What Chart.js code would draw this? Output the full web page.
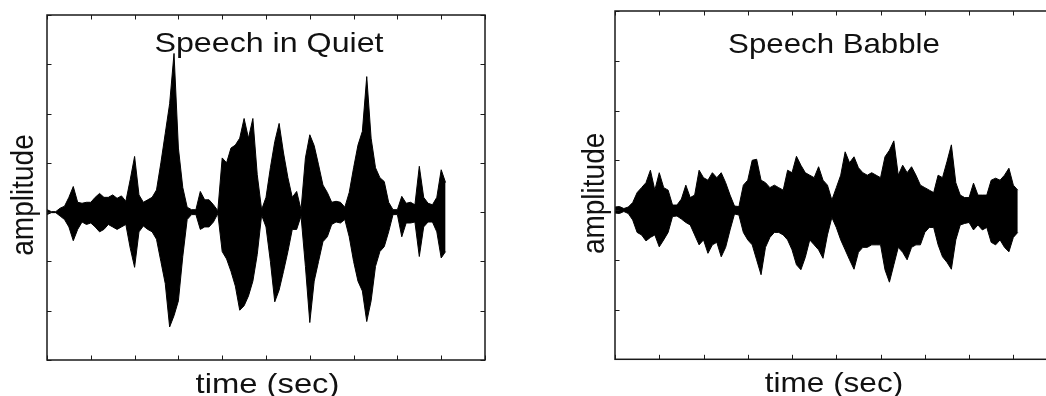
<!DOCTYPE html>
<html>
<head>
<meta charset="utf-8">
<script src="https://cdn.jsdelivr.net/npm/chart.js@4.4.1/dist/chart.umd.min.js"></script>
<style>
  html, body { margin: 0; padding: 0; background: #fff; overflow: hidden; width: 1046px; height: 396px; }
  canvas { position: absolute; top: 0; }
  #quietChart { left: 0; }
  #babbleChart { left: 560px; }
</style>
</head>
<body>
<canvas id="quietChart" width="523" height="396"></canvas>
<canvas id="babbleChart" width="520" height="396"></canvas>
<script>
// envelope of the waveform, read every 0.1 tick interval
const sampleTime = [
  0.0, 0.1, 0.2, 0.3, 0.4, 0.5, 0.6, 0.7, 0.8, 0.9,
  1.0, 1.1, 1.2, 1.3, 1.4, 1.5, 1.6, 1.7, 1.8, 1.9,
  2.0, 2.1, 2.2, 2.3, 2.4, 2.5, 2.6, 2.7, 2.8, 2.9,
  3.0, 3.1, 3.2, 3.3, 3.4, 3.5, 3.6, 3.7, 3.8, 3.9,
  4.0, 4.1, 4.2, 4.3, 4.4, 4.5, 4.6, 4.7, 4.8, 4.9,
  5.0, 5.1, 5.2, 5.3, 5.4, 5.5, 5.6, 5.7, 5.8, 5.9,
  6.0, 6.1, 6.2, 6.3, 6.4, 6.5, 6.6, 6.7, 6.8, 6.9,
  7.0, 7.1, 7.2, 7.3, 7.4, 7.5, 7.6, 7.7, 7.8, 7.9,
  8.0, 8.1, 8.2, 8.3, 8.4, 8.5, 8.6, 8.7, 8.8, 8.9,
  9.0, 9.1
];

const quietUpper = [
  0.05, 0.01, 0.01, 0.08, 0.12, 0.3, 0.52, 0.2, 0.18, 0.2,
  0.2, 0.3, 0.38, 0.3, 0.3, 0.35, 0.28, 0.33, 0.22, 0.66,
  1.13, 0.35, 0.2, 0.25, 0.3, 0.45, 1.0, 1.6, 2.2, 3.22,
  1.3, 0.5, 0.1, 0.05, 0.05, 0.42, 0.25, 0.25, 0.15, 0.03,
  1.1, 1.0, 1.3, 1.36, 1.5, 1.9, 1.5, 1.9, 0.76, 0.05,
  0.3, 0.9, 1.43, 1.8, 1.2, 0.7, 0.3, 0.42, 0.05, 1.1,
  1.57, 1.35, 0.96, 0.55, 0.4, 0.2, 0.22, 0.2, 0.1, 0.4,
  0.9, 1.36, 1.64, 2.75, 1.5, 0.9, 0.7, 0.62, 0.2, 0.05,
  0.05, 0.32, 0.18, 0.2, 0.15, 0.93, 0.3, 0.18, 0.15, 0.3,
  0.86, 0.6
];
const quietLower = [
  -0.05, -0.01, -0.01, -0.08, -0.15, -0.3, -0.58, -0.35, -0.2, -0.25,
  -0.22, -0.3, -0.4, -0.35, -0.25, -0.3, -0.35, -0.3, -0.25, -0.73,
  -1.12, -0.4, -0.28, -0.35, -0.4, -0.55, -1.0, -1.45, -2.33, -2.1,
  -1.8, -0.9, -0.15, -0.05, -0.05, -0.35, -0.3, -0.3, -0.2, -0.03,
  -0.8, -0.95, -1.2, -1.5, -1.99, -1.9, -1.7, -1.4, -0.86, -0.06,
  -0.3, -1.0, -1.82, -1.58, -1.2, -0.8, -0.35, -0.35, -0.08, -1.1,
  -2.24, -1.4, -1.0, -0.6, -0.5, -0.25, -0.2, -0.22, -0.15, -0.5,
  -1.0, -1.4, -1.6, -2.22, -1.8, -1.1, -0.8, -0.7, -0.4, -0.05,
  -0.05, -0.5, -0.22, -0.22, -0.2, -0.9, -0.3, -0.2, -0.2, -0.4,
  -0.93, -0.8
];

const babbleUpper = [
  0.06, 0.07, 0.03, 0.06, 0.15, 0.35, 0.45, 0.55, 0.8, 0.4,
  0.75, 0.45, 0.4, 0.1, 0.1, 0.22, 0.5, 0.25, 0.3, 0.8,
  0.65, 0.6, 0.75, 0.65, 0.75, 0.55, 0.3, 0.08, 0.07, 0.5,
  0.6, 1.0, 1.02, 0.6, 0.55, 0.45, 0.5, 0.45, 0.4, 0.8,
  0.75, 1.08, 0.9, 0.75, 0.7, 0.65, 0.87, 0.6, 0.5, 0.2,
  0.45, 0.7, 1.17, 0.95, 1.07, 0.85, 0.75, 0.7, 0.75, 0.7,
  0.65, 1.07, 1.2, 1.39, 0.7, 0.9, 0.75, 0.87, 0.7, 0.5,
  0.45, 0.4, 0.35, 0.7, 0.65, 0.97, 1.31, 0.55, 0.3, 0.25,
  0.25, 0.54, 0.3, 0.3, 0.3, 0.6, 0.64, 0.6, 0.7, 0.84,
  0.5, 0.4
];
const babbleLower = [
  -0.06, -0.07, -0.03, -0.07, -0.2, -0.45, -0.5, -0.62, -0.55, -0.5,
  -0.74, -0.6, -0.45, -0.13, -0.12, -0.18, -0.25, -0.3, -0.5, -0.7,
  -0.6, -0.87, -0.7, -0.65, -0.94, -0.75, -0.4, -0.08, -0.1, -0.45,
  -0.6, -0.7, -1.0, -1.3, -0.75, -0.55, -0.45, -0.45, -0.5, -0.6,
  -0.8, -1.1, -1.2, -0.95, -0.6, -0.7, -0.8, -0.97, -0.5, -0.15,
  -0.35, -0.6, -0.8, -1.0, -1.19, -0.85, -0.75, -0.75, -0.7, -0.7,
  -0.7, -1.2, -1.45, -1.1, -0.75, -0.85, -1.0, -0.75, -0.7, -0.7,
  -0.45, -0.35, -0.35, -0.7, -0.94, -1.05, -1.19, -0.6, -0.3, -0.27,
  -0.25, -0.4, -0.3, -0.4, -0.35, -0.65, -0.7, -0.6, -0.75, -0.84,
  -0.55, -0.45
];

// unlabeled tick positions (in tick units)
const timeTicks = [0, 1, 2, 3, 4, 5, 6, 7, 8, 9, 10];
const ampTicks = [-3, -2, -1, 0, 1, 2, 3, 4];

const TICK_LEN = 4.5;
const FONT = '28px "Liberation Sans", Arial, sans-serif';

function stretchedText(ctx, text, x, y, sx, vertical) {
  ctx.save();
  ctx.translate(x, y);
  ctx.scale(sx, 1);
  if (vertical) ctx.rotate(-Math.PI / 2);
  ctx.fillText(text, 0, 0);
  ctx.restore();
}

const framePlugin = {
  id: "frame",
  afterDatasetsDraw(chart, args, opts) {
    const { ctx, chartArea: a, scales } = chart;
    ctx.save();
    ctx.strokeStyle = "#1a1a1a";
    ctx.lineWidth = 1.5;
    ctx.strokeRect(a.left, a.top, a.width, a.height);

    // inward ticks on all four sides
    ctx.lineWidth = 1;
    ctx.beginPath();
    timeTicks.forEach((v) => {
      const x = Math.round(scales.x.getPixelForValue(v)) + 0.5;
      ctx.moveTo(x, a.top);
      ctx.lineTo(x, a.top + TICK_LEN);
      ctx.moveTo(x, a.bottom);
      ctx.lineTo(x, a.bottom - TICK_LEN);
    });
    ampTicks.forEach((v) => {
      const y = Math.round(scales.y.getPixelForValue(v)) + 0.5;
      ctx.moveTo(a.left, y);
      ctx.lineTo(a.left + TICK_LEN, y);
      ctx.moveTo(a.right, y);
      ctx.lineTo(a.right - TICK_LEN, y);
    });
    ctx.stroke();

    ctx.fillStyle = "#111";
    ctx.font = FONT;
    ctx.textAlign = "center";
    ctx.textBaseline = "alphabetic";
    stretchedText(ctx, opts.title, opts.titleX, opts.titleY, opts.titleScale, false);
    stretchedText(ctx, opts.xLabel, opts.xLabelX, opts.xLabelY, opts.xLabelScale, false);
    stretchedText(ctx, opts.yLabel, opts.yLabelX, opts.yLabelY, opts.yLabelScale, true);
    ctx.restore();
  },
};

function makeWaveChart(canvasId, upper, lower, padding, text) {
  const toPoints = (vals) => sampleTime.map((t, i) => ({ x: t, y: vals[i] }));
  return new Chart(document.getElementById(canvasId), {
    type: "line",
    data: {
      datasets: [
        {
          data: toPoints(upper),
          borderColor: "#000",
          backgroundColor: "#000",
          borderWidth: 1,
          pointRadius: 0,
          tension: 0,
          fill: "+1",
        },
        {
          data: toPoints(lower),
          borderColor: "#000",
          borderWidth: 1,
          pointRadius: 0,
          tension: 0,
          fill: false,
        },
      ],
    },
    options: {
      responsive: false,
      animation: false,
      events: [],
      layout: { padding: padding },
      scales: {
        x: { type: "linear", min: 0, max: 10, display: false },
        y: { type: "linear", min: -3, max: 4, display: false },
      },
      plugins: {
        legend: { display: false },
        tooltip: { enabled: false },
        frame: text,
      },
    },
    plugins: [framePlugin],
  });
}

makeWaveChart(
  "quietChart",
  quietUpper,
  quietLower,
  { left: 47, right: 38, top: 15, bottom: 36 },
  {
    title: "Speech in Quiet", titleX: 269, titleY: 52, titleScale: 1.15,
    xLabel: "time (sec)", xLabelX: 267.5, xLabelY: 392.5, xLabelScale: 1.17,
    yLabel: "amplitude", yLabelX: 33, yLabelY: 195, yLabelScale: 1.15,
  }
);

makeWaveChart(
  "babbleChart",
  babbleUpper,
  babbleLower,
  { left: 55, right: 22.4, top: 11, bottom: 36.7 },
  {
    title: "Speech Babble", titleX: 274, titleY: 52.5, titleScale: 1.115,
    xLabel: "time (sec)", xLabelX: 274, xLabelY: 392, xLabelScale: 1.125,
    yLabel: "amplitude", yLabelX: 44, yLabelY: 193.4, yLabelScale: 1.12,
  }
);
</script>
</body>
</html>
